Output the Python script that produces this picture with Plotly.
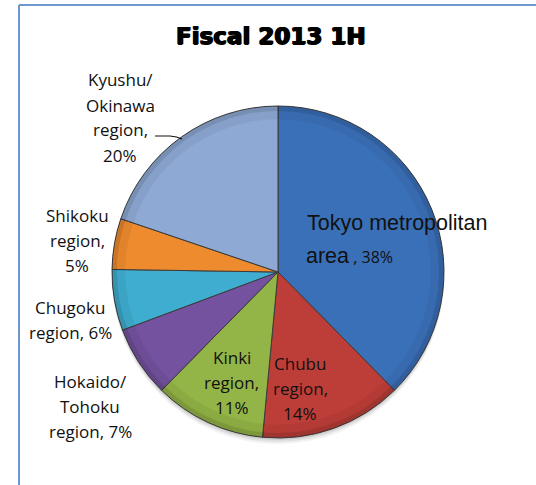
import plotly.graph_objects as go

# Sales share by region, first half of fiscal 2013
regions = [
    "Tokyo metropolitan area",
    "Chubu region",
    "Kinki region",
    "Hokaido/Tohoku region",
    "Chugoku region",
    "Shikoku region",
    "Kyushu/Okinawa region",
]
shares = [38, 14, 11, 7, 6, 5, 20]
colors = ["#3A70B8", "#BD3E38", "#93B446", "#7452A0", "#3FADCF", "#EE8B2E", "#8EA9D4"]

W, H = 536, 485
CX, CY, R = 278, 272, 166


def px(x):
    return x / W


def py(y):
    return 1 - y / H


fig = go.Figure()

# soft drop shadow under the pie
for off, alpha in [(6, 0.05), (4, 0.07), (2, 0.09)]:
    fig.add_trace(go.Pie(
        values=[1], marker=dict(colors=[f"rgba(0,0,0,{alpha})"]),
        domain=dict(x=[px(CX - R - 1), px(CX + R + 1)], y=[py(CY + R + off), py(CY - R + off)]),
        textinfo="none", hoverinfo="skip", showlegend=False, sort=False,
    ))

fig.add_trace(go.Pie(
    labels=regions, values=shares, sort=False, direction="clockwise", rotation=0,
    marker=dict(colors=colors, line=dict(color="#3b3b3b", width=1)),
    domain=dict(x=[px(CX - R), px(CX + R)], y=[py(CY + R), py(CY - R)]),
    textinfo="none", hoverinfo="label+percent", showlegend=False,
))

# faint darkening toward the rim for a slightly rounded look
for hole, alpha in [(0.97, 0.10), (0.92, 0.05)]:
    fig.add_trace(go.Pie(
        values=[1], hole=hole, marker=dict(colors=[f"rgba(0,0,0,{alpha})"], line=dict(width=0)),
        domain=dict(x=[px(CX - R), px(CX + R)], y=[py(CY + R), py(CY - R)]),
        textinfo="none", hoverinfo="skip", showlegend=False, sort=False,
    ))

label_font = dict(family="Open Sans, Noto Sans, sans-serif", size=17, color="#111111")


def pct(i):
    return f"{shares[i]}%"


# line layout of each label: (center x, first-line y, line texts)
label_specs = [
    (120, 80, ["Kyushu/", "Okinawa", "region,", pct(6)]),
    (77, 215, ["Shikoku", "region,", pct(5)]),
    (70, 307, ["Chugoku", f"region, {pct(4)}"]),
    (90, 381, ["Hokaido/", "Tohoku", f"region, {pct(3)}"]),
    (232, 357, ["Kinki", "region,", pct(2)]),
    (300, 363, ["Chubu", "region,", pct(1)]),
]
LINE = 25
annotations = []
for x, y0, lines in label_specs:
    for k, t in enumerate(lines):
        annotations.append(dict(
            x=px(x), y=py(y0 + k * LINE), xref="paper", yref="paper",
            text=t, showarrow=False, xanchor="center", yanchor="middle", font=label_font,
        ))

tokyo_font = dict(family="Liberation Sans, Arial, sans-serif", size=21.5, color="#111111")
annotations.append(dict(
    x=px(305), y=py(223), xref="paper", yref="paper", text="Tokyo metropolitan",
    showarrow=False, xanchor="left", yanchor="middle", font=tokyo_font,
))
annotations.append(dict(
    x=px(304), y=py(256), xref="paper", yref="paper",
    text=f"area<span style='font-family:Open Sans; font-size:16px'> , {pct(0)}</span>",
    showarrow=False, xanchor="left", yanchor="middle", font=tokyo_font,
))

annotations.append(dict(
    x=px(271), y=py(36), xref="paper", yref="paper", text="<b>Fiscal 2013 1H</b>",
    showarrow=False, xanchor="center", yanchor="middle",
    font=dict(family="DejaVu Sans, sans-serif", size=23, color="#000000",
              shadow="0.8px 0 0 #000, -0.8px 0 0 #000, 0 0.5px 0 #000"),
))

shapes = [
    # chart frame
    dict(type="line", xref="paper", yref="paper", x0=px(19), y0=py(5), x1=1.01, y1=py(5),
         line=dict(color="#6D98CF", width=2)),
    dict(type="line", xref="paper", yref="paper", x0=px(19), y0=py(5), x1=px(19), y1=-0.01,
         line=dict(color="#6D98CF", width=2)),
    # leader line for the Kyushu/Okinawa label
    dict(type="path", xref="paper", yref="paper",
         path=f"M {px(155)},{py(136)} L {px(170)},{py(136)} Q {px(177)},{py(136.5)} {px(182)},{py(139)}",
         line=dict(color="#111111", width=1.2)),
]

fig.update_layout(
    width=W, height=H, margin=dict(l=0, r=0, t=0, b=0),
    paper_bgcolor="white", plot_bgcolor="white",
    annotations=annotations, shapes=shapes,
)

fig.write_html("out.html")
